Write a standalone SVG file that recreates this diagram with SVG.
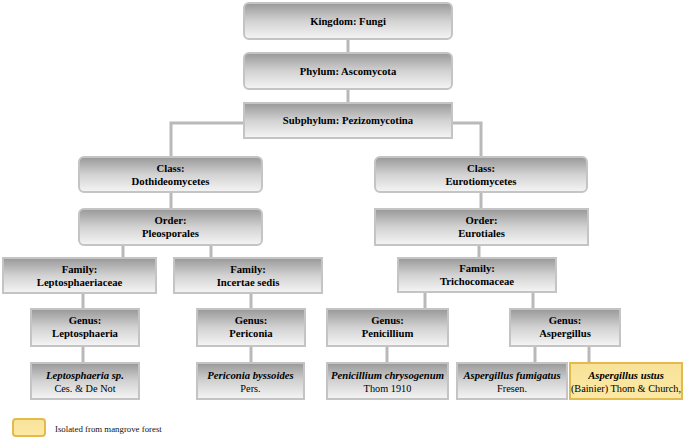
<svg xmlns="http://www.w3.org/2000/svg" width="685" height="443" viewBox="0 0 685 443" font-family="'Liberation Serif', 'Times New Roman', serif">
<defs>
<linearGradient id="g" x1="0" y1="0" x2="0" y2="1">
<stop offset="0" stop-color="#989898"/>
<stop offset="0.5" stop-color="#d2d2d2"/>
<stop offset="1" stop-color="#f5f5f5"/>
</linearGradient>
<linearGradient id="y" x1="0" y1="0" x2="0" y2="1">
<stop offset="0" stop-color="#f8e29a"/>
<stop offset="1" stop-color="#fde9a4"/>
</linearGradient>
</defs>
<style>
.b{fill:url(#g);stroke:#c4c4c4;stroke-width:2}
.yb{fill:url(#y);stroke:#e3bb4c;stroke-width:2}
.c{fill:none;stroke:#b9b9b9;stroke-width:3}
.t,.i,.r{text-anchor:middle;fill:#000}
.l{fill:#111}
.t{font-weight:bold;font-size:10.7px}
.i{font-weight:bold;font-style:italic;font-size:10.7px}
.r{font-size:10.3px}
.l{font-size:8.8px;text-anchor:start}
</style>
<g id="connectors">
<path class="c" d="M348,39V52M348,90V102M243,123H171V156M453,123H481V156M171,193V208M123,246V257M211,246V257M481,193V208M479,246V257M83,294V308M251,294V308M425,293V308M533,293V308M83,346V362M251,346V362M387,346V362M535,346V362M589,346V362"/>
</g>
<g id="kingdom"><rect class="b" x="244" y="3" width="208" height="36" rx="5"/><text class="t" x="348" y="25">Kingdom: Fungi</text></g>
<g id="phylum"><rect class="b" x="244" y="53" width="208" height="36" rx="5"/><text class="t" x="348" y="75">Phylum: Ascomycota</text></g>
<g id="subphylum"><rect class="b" x="244" y="103" width="208" height="35"/><text class="t" x="348" y="124">Subphylum: Pezizomycotina</text></g>
<g id="class-dothideomycetes"><rect class="b" x="79" y="157" width="183" height="35" rx="5"/><text class="t" x="170.5" y="172">Class:</text><text class="t" x="170.5" y="185">Dothideomycetes</text></g>
<g id="order-pleosporales"><rect class="b" x="79" y="209" width="183" height="36" rx="5"/><text class="t" x="170.5" y="224">Order:</text><text class="t" x="170.5" y="237">Pleosporales</text></g>
<g id="family-leptosphaeriaceae"><rect class="b" x="3" y="258" width="153" height="35"/><text class="t" x="79.5" y="272.5">Family:</text><text class="t" x="79.5" y="285.5">Leptosphaeriaceae</text></g>
<g id="family-incertae-sedis"><rect class="b" x="174" y="258" width="148" height="35"/><text class="t" x="248" y="272.5">Family:</text><text class="t" x="248" y="285.5">Incertae sedis</text></g>
<g id="class-eurotiomycetes"><rect class="b" x="375" y="157" width="212" height="35" rx="5"/><text class="t" x="481" y="172">Class:</text><text class="t" x="481" y="185">Eurotiomycetes</text></g>
<g id="order-eurotiales"><rect class="b" x="375" y="209" width="213" height="36"/><text class="t" x="481.5" y="224">Order:</text><text class="t" x="481.5" y="237">Eurotiales</text></g>
<g id="family-trichocomaceae"><rect class="b" x="398" y="258" width="158" height="34"/><text class="t" x="477" y="272">Family:</text><text class="t" x="477" y="285">Trichocomaceae</text></g>
<g id="genus-leptosphaeria"><rect class="b" x="31" y="309" width="108" height="37"/><text class="t" x="85" y="324">Genus:</text><text class="t" x="85" y="337">Leptosphaeria</text></g>
<g id="genus-periconia"><rect class="b" x="197" y="309" width="108" height="37"/><text class="t" x="251" y="324">Genus:</text><text class="t" x="251" y="337">Periconia</text></g>
<g id="genus-penicillium"><rect class="b" x="327" y="309" width="121" height="37"/><text class="t" x="387.5" y="324">Genus:</text><text class="t" x="387.5" y="337">Penicillium</text></g>
<g id="genus-aspergillus"><rect class="b" x="510" y="309" width="110" height="37"/><text class="t" x="565" y="324">Genus:</text><text class="t" x="565" y="337">Aspergillus</text></g>
<g id="species-leptosphaeria"><rect class="b" x="31" y="363" width="108" height="36"/><text class="i" x="85" y="378.5">Leptosphaeria sp.</text><text class="r" x="85" y="391.5">Ces. &amp; De Not</text></g>
<g id="species-periconia"><rect class="b" x="197" y="363" width="107" height="36"/><text class="i" x="250.5" y="378.5">Periconia byssoides</text><text class="r" x="250.5" y="391.5">Pers.</text></g>
<g id="species-penicillium"><rect class="b" x="327" y="363" width="121" height="36"/><text class="i" x="387.5" y="378.5">Penicillium chrysogenum</text><text class="r" x="387.5" y="391.5">Thom 1910</text></g>
<g id="species-aspergillus-fumigatus"><rect class="b" x="457" y="363" width="110" height="36"/><text class="i" x="512" y="378.5">Aspergillus fumigatus</text><text class="r" x="512" y="391.5">Fresen.</text></g>
<g id="species-aspergillus-ustus"><rect class="yb" x="570" y="363" width="112" height="36"/><text class="i" x="626" y="378.5">Aspergillus ustus</text><text class="r" x="626" y="391.5">(Bainier) Thom &amp; Church,</text></g>
<g id="legend"><rect class="yb" x="13" y="419" width="32" height="17" rx="3"/><text class="l" x="55" y="432">Isolated from mangrove forest</text></g>
</svg>
